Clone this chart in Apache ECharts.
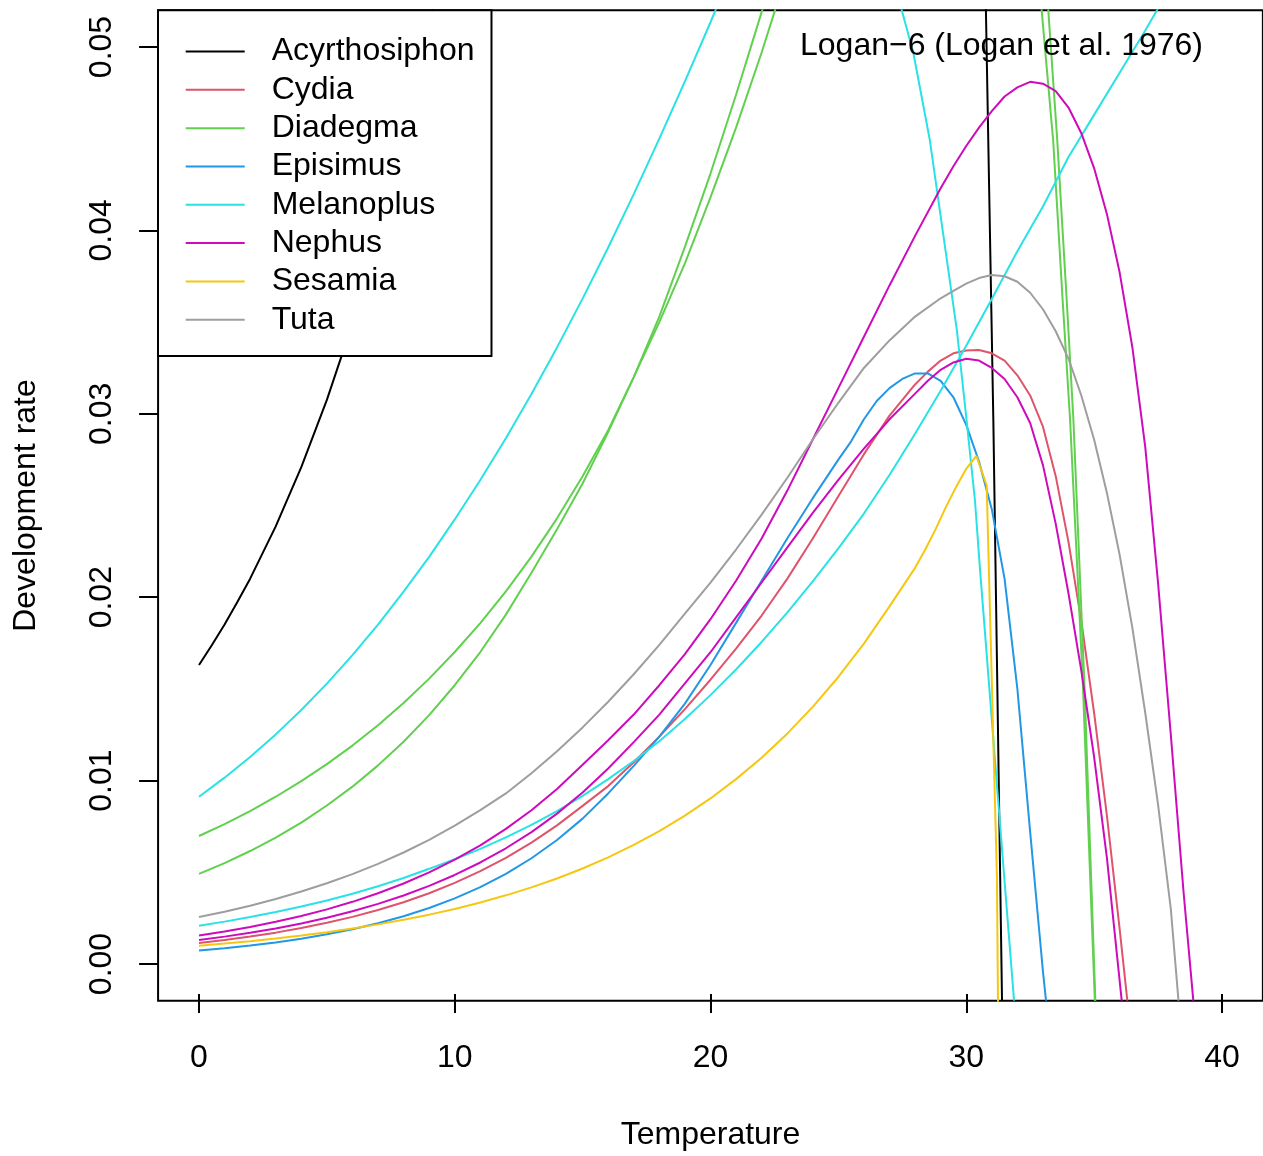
<!DOCTYPE html>
<html>
<head>
<meta charset="utf-8">
<script src="https://cdn.jsdelivr.net/npm/echarts@6/dist/echarts.min.js"></script>
<style>
  html, body { margin: 0; padding: 0; background: #ffffff; }
  #chart { width: 1263px; height: 1156px; }
</style>
</head>
<body>
<div id="chart"></div>
<script>
// ---- data: [temperature, development rate] ----
const speciesNames = ["Acyrthosiphon", "Cydia", "Diadegma", "Episimus", "Melanoplus", "Nephus", "Sesamia", "Tuta"];
const speciesColors = ["#000000", "#DF536B", "#61D04F", "#2297E6", "#28E2E5", "#CD0BBC", "#F5C710", "#9E9E9E"];
const xTickLabels = ["0", "10", "20", "30", "40"];
const yTickLabels = ["0.00", "0.01", "0.02", "0.03", "0.04", "0.05"];
const chartTitle = "Logan\u22126 (Logan et al. 1976)";

const acyrthosiphon = [[0,0.0163],[0.5,0.01738],[1,0.01851],[1.5,0.01974],[2,0.02101],[3,0.02386],[4,0.02709],[5,0.03076],[6,0.03492],[7,0.03965],[8,0.04502],[8.5,0.04790],[9,0.05111],[9.5,0.05446],
  [30.7,0.0574],[30.77,0.0520],[31.06,0.0297],[31.4,-0.0020]];
const cydia = [[0,0.00114],[1,0.00131],[2,0.00150],[3,0.00171],[4,0.00196],[5,0.00225],[6,0.00257],[7,0.00294],[8,0.00337],[9,0.00386],[10,0.00442],[11,0.00506],[12,0.00579],[13,0.00662],[14,0.00756],[15,0.00862],[16,0.0097],[17,0.0110],[18,0.0124],[19,0.0139],[20,0.0155],[21,0.0172],[22,0.0190],[23,0.0210],[24,0.0232],[25,0.0255],[26,0.0278],[27,0.0299],[28,0.0316],[28.5,0.0323],[29,0.0329],[29.5,0.0333],[30,0.03345],[30.5,0.03348],[31,0.0333],[31.5,0.0329],[32,0.0321],[32.5,0.0310],[33,0.0293],[33.5,0.0266],[34,0.0230],[34.5,0.0187],[35,0.0137],[35.5,0.0081],[36,0.0019],[36.3,-0.0020]];
const diadegmaA = [[0,0.00698],[1,0.00763],[2,0.00834],[3,0.00912],[4,0.00997],[5,0.0109],[6,0.01191],[7,0.01302],[8,0.01423],[9,0.01556],[10,0.01701],[11,0.01859],[12,0.02032],[13,0.02221],[14,0.0243],[15,0.0266],[16,0.0291],[17,0.0320],[18,0.0350],[19,0.0382],[20,0.0418],[21,0.0456],[22,0.0497],[22.5,0.0519],[23,0.0542],
  [33.11,0.0540],[33.21,0.0520],[33.56,0.0449],[33.93,0.0362],[34.19,0.0297],[34.62,0.0153],[35.05,-0.0020]];
const diadegmaB = [[0,0.00491],[1,0.0055],[2,0.00616],[3,0.00689],[4,0.00771],[5,0.00864],[6,0.00967],[7,0.01083],[8,0.01212],[9,0.01357],[10,0.0152],[11,0.01701],[12,0.01905],[13,0.02133],[14,0.0237],[15,0.0262],[16,0.0290],[17,0.0320],[18,0.0353],[19,0.0391],[20,0.0431],[21,0.0474],[22,0.0519],[22.5,0.0542],
  [32.82,0.0540],[32.95,0.0520],[33.40,0.0449],[33.77,0.0362],[34.06,0.0297],[34.56,0.0153],[35.03,-0.0020]];
const episimus = [[0,0.00073],[1,0.000856],[2,0.001003],[3,0.001176],[4,0.001379],[5,0.001617],[6,0.001895],[7,0.002222],[8,0.002605],[9,0.003053],[10,0.003579],[11,0.004196],[12,0.004919],[13,0.005767],[14,0.006761],[15,0.007926],[16,0.0093],[17,0.0108],[18,0.0124],[19,0.0142],[20,0.0163],[21,0.0186],[22,0.0209],[23,0.0232],[24,0.0254],[25,0.0275],[25.5,0.0285],[26,0.0297],[26.5,0.0307],[27,0.0314],[27.5,0.0319],[28,0.0322],[28.5,0.0322],[29,0.0318],[29.5,0.0309],[30,0.0294],[30.5,0.0274],[31,0.0248],[31.5,0.0210],[32,0.0150],[32.5,0.0072],[33,-0.0004],[33.12,-0.0020]];
const melanoplusA = [[0,0.00912],[1,0.01016],[2,0.01129],[3,0.01252],[4,0.01385],[5,0.01529],[6,0.01684],[7,0.01851],[8,0.02030],[9,0.02220],[10,0.02424],[11,0.02639],[12,0.02867],[13,0.03108],[14,0.03362],[15,0.03628],[16,0.03907],[17,0.04198],[18,0.04500],[19,0.04813],[20,0.05135],[21,0.05467],
  [27.2,0.0535],[27.48,0.0520],[27.93,0.0497],[28.58,0.0449],[29.63,0.0346],[30.01,0.0297],[30.34,0.0253],[30.54,0.0215],[31.12,0.0112],[31.58,0.0031],[31.87,-0.0020]];
const melanoplusB = [[0,0.00209],[1,0.00231],[2,0.00256],[3,0.00283],[4,0.00313],[5,0.00346],[6,0.00383],[7,0.00424],[8,0.00469],[9,0.00519],[10,0.00571],[11,0.00628],[12,0.00690],[13,0.00759],[14,0.00834],[15,0.00917],[16,0.01008],[17,0.01107],[18,0.01215],[19,0.01336],[20,0.01466],[21,0.01606],[22,0.01756],[23,0.01916],[24,0.02086],[25,0.02266],[26,0.02456],[27,0.02666],[28,0.02891],[29,0.03126],[30,0.03371],[31,0.03626],[32,0.03886],[33,0.0413],[34,0.0440],[35,0.0463],[36,0.0486],[37,0.0509],[37.5,0.0521],[38,0.0532]];
const nephusA = [[0,0.00156],[1,0.001775],[2,0.00202],[3,0.0023],[4,0.002617],[5,0.002979],[6,0.00339],[7,0.003858],[8,0.004391],[9,0.004997],[10,0.005687],[11,0.006473],[12,0.007366],[13,0.008384],[14,0.009542],[15,0.01086],[16,0.0122],[17,0.0136],[18,0.0152],[19,0.0169],[20,0.0188],[21,0.0209],[22,0.0232],[23,0.0258],[24,0.0286],[25,0.0314],[26,0.0342],[27,0.0370],[28,0.0397],[29,0.0423],[29.5,0.0435],[30,0.0446],[30.5,0.0456],[31,0.0465],[31.5,0.0473],[32,0.0478],[32.5,0.0481],[33,0.0480],[33.5,0.0476],[34,0.0467],[34.5,0.0453],[35,0.0434],[35.5,0.0409],[36,0.0377],[36.5,0.0336],[37,0.0282],[37.5,0.0208],[38,0.0125],[38.5,0.0039],[38.88,-0.0020]];
const nephusB = [[0,0.00131],[1,0.001493],[2,0.001702],[3,0.00194],[4,0.002212],[5,0.002522],[6,0.002875],[7,0.003277],[8,0.003736],[9,0.004259],[10,0.004855],[11,0.005535],[12,0.00631],[13,0.007193],[14,0.0082],[15,0.009348],[16,0.01066],[17,0.0121],[18,0.0136],[19,0.0153],[20,0.0170],[21,0.0189],[22,0.0208],[23,0.0227],[24,0.0246],[25,0.0264],[26,0.0281],[27,0.0297],[28,0.0311],[28.5,0.0318],[29,0.0324],[29.5,0.0328],[30,0.0330],[30.5,0.0329],[31,0.0325],[31.5,0.0319],[32,0.0309],[32.5,0.0295],[33,0.0272],[33.5,0.0240],[34,0.0202],[34.5,0.0160],[35,0.0113],[35.5,0.0058],[36.08,-0.0020]];
const sesamia = [[0,0.00100],[1,0.001116],[2,0.001246],[3,0.001391],[4,0.001553],[5,0.001733],[6,0.001935],[7,0.00216],[8,0.002411],[9,0.002691],[10,0.003004],[11,0.003354],[12,0.003744],[13,0.004179],[14,0.004665],[15,0.005208],[16,0.005814],[17,0.00649],[18,0.007245],[19,0.008087],[20,0.009028],[21,0.01008],[22,0.01125],[23,0.01256],[24,0.01402],[25,0.01565],[26,0.01747],[27,0.0195],[28,0.0216],[28.4,0.0226],[28.8,0.0237],[29.2,0.0249],[29.6,0.0260],[30.0,0.0270],[30.4,0.0277],[30.8,0.0261],[31.2,0.0048],[31.6,-0.0600]];
const tuta = [[0,0.00256],[1,0.00285],[2,0.00318],[3,0.00354],[4,0.00395],[5,0.00440],[6,0.00490],[7,0.00546],[8,0.00608],[9,0.00677],[10,0.00754],[11,0.00839],[12,0.0093],[13,0.0104],[14,0.0116],[15,0.0129],[16,0.0143],[17,0.0158],[18,0.0174],[19,0.0191],[20,0.0208],[21,0.0226],[22,0.0245],[23,0.0265],[24,0.0286],[25,0.0306],[26,0.0325],[27,0.0340],[28,0.0353],[29,0.0363],[29.5,0.0367],[30,0.0371],[30.5,0.0374],[31,0.03757],[31.5,0.0375],[32,0.0372],[32.5,0.0366],[33,0.0357],[33.5,0.0345],[34,0.0330],[34.5,0.0310],[35,0.0286],[35.5,0.0257],[36,0.0223],[36.5,0.0183],[37,0.0137],[37.5,0.0087],[38,0.0030],[38.3,-0.0020]];

// curves in drawing order: [legend name, data]
const curves = [
  ["Acyrthosiphon", acyrthosiphon],
  ["Cydia", cydia],
  ["Diadegma", diadegmaA],
  ["Diadegma", diadegmaB],
  ["Episimus", episimus],
  ["Melanoplus", melanoplusA],
  ["Melanoplus", melanoplusB],
  ["Nephus", nephusA],
  ["Nephus", nephusB],
  ["Sesamia", sesamia],
  ["Tuta", tuta]
];

const FONT = "'Liberation Sans', Arial, Helvetica, sans-serif";
const colorOf = name => speciesColors[speciesNames.indexOf(name)];

const series = curves.map(([name, data]) => ({
  name: name,
  type: 'line',
  xAxisIndex: 0,
  yAxisIndex: 0,
  data: data,
  showSymbol: false,
  symbol: 'none',
  clip: true,
  color: colorOf(name),
  itemStyle: { color: colorOf(name) },
  lineStyle: { color: colorOf(name), width: 2 },
  silent: true,
  animation: false
}));

const chart = echarts.init(document.getElementById('chart'), null, { renderer: 'canvas', width: 1263, height: 1156 });
chart.setOption({
  backgroundColor: '#ffffff',
  animation: false,
  title: {
    text: chartTitle,
    right: 60,
    top: 30,
    padding: 0,
    textStyle: { fontFamily: FONT, fontSize: 32, fontWeight: 'normal', color: '#000' }
  },
  legend: {
    orient: 'vertical',
    left: 158,
    top: 10.3,
    padding: [22, 17, 17, 27.7],
    itemGap: 0,
    itemWidth: 59,
    itemHeight: 2,
    icon: 'rect',
    borderColor: '#000',
    borderWidth: 2,
    borderRadius: 0,
    backgroundColor: '#ffffff',
    selectedMode: false,
    data: speciesNames,
    textStyle: { fontFamily: FONT, fontSize: 32, color: '#000', lineHeight: 38.33, padding: [0, 0, 0, 22] }
  },
  grid: [
    { left: 158.08, top: 10.32, width: 1104.8, height: 990.36, show: true, borderColor: '#000', borderWidth: 2, backgroundColor: 'transparent', containLabel: false },
    { left: 199, top: 10.32, width: 1023, height: 990.36, containLabel: false },
    { left: 158.08, top: 47, width: 1104.8, height: 917, containLabel: false }
  ],
  xAxis: [
    { gridIndex: 0, type: 'value', min: -1.6, max: 41.6, show: false },
    {
      gridIndex: 1, type: 'value', min: 0, max: 40, interval: 10, position: 'bottom',
      axisLine: { show: false },
      axisTick: { show: true, length: 19, lineStyle: { color: '#000', width: 2 } },
      axisLabel: { fontFamily: FONT, fontSize: 32, color: '#000', margin: 48,
        formatter: v => xTickLabels[Math.round(v / 10)] },
      splitLine: { show: false },
      name: 'Temperature', nameLocation: 'middle', nameGap: 125,
      nameTextStyle: { fontFamily: FONT, fontSize: 32, color: '#000' }
    },
    { gridIndex: 2, type: 'value', min: 0, max: 1, show: false }
  ],
  yAxis: [
    { gridIndex: 0, type: 'value', min: -0.002, max: 0.052, show: false },
    { gridIndex: 1, type: 'value', min: 0, max: 1, show: false },
    {
      gridIndex: 2, type: 'value', min: 0, max: 0.05, interval: 0.01, position: 'left',
      axisLine: { show: false },
      axisTick: { show: true, length: 19, lineStyle: { color: '#000', width: 2 } },
      axisLabel: { fontFamily: FONT, fontSize: 32, color: '#000', margin: 40, rotate: 90,
        formatter: v => yTickLabels[Math.round(v / 0.01)] },
      splitLine: { show: false },
      name: 'Development rate', nameLocation: 'middle', nameGap: 116,
      nameTextStyle: { fontFamily: FONT, fontSize: 32, color: '#000' }
    }
  ],
  series: series
});
</script>
</body>
</html>
